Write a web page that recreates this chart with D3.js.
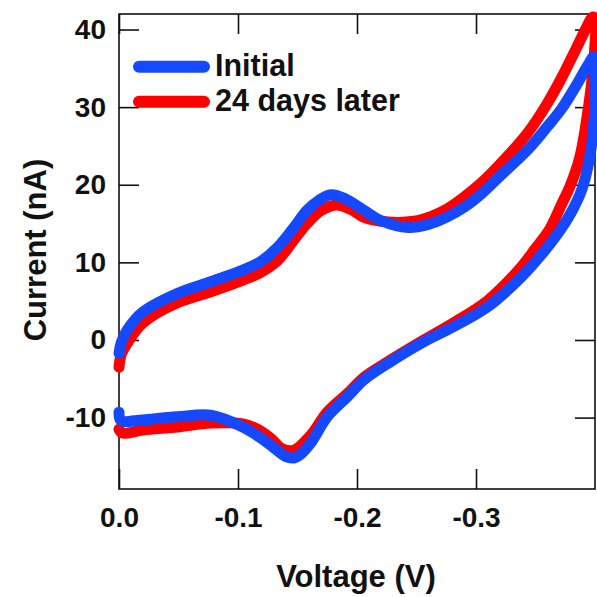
<!DOCTYPE html>
<html>
<head>
<meta charset="utf-8">
<script src="https://cdn.jsdelivr.net/npm/d3@7"></script>
<style>
  body { margin: 0; background: #fff; }
  text { font-family: "Liberation Sans", Arial, sans-serif; font-weight: bold; fill: #111; }
</style>
</head>
<body>
<svg width="597" height="597"></svg>
<script>
// voltammogram, two scans of the same electrode
var xTicks = [0, -0.1, -0.2, -0.3];
var yTicks = [-10, 0, 10, 20, 30, 40];
var seriesNames = ["Initial", "24 days later"];

// Initial: forward scan then return scan (V, nA)
var initialV = [0, -0.002, -0.007, -0.02, -0.049, -0.077, -0.104, -0.119, -0.133, -0.147, -0.158, -0.168, -0.178, -0.19, -0.206, -0.22, -0.243, -0.26, -0.275, -0.29, -0.305, -0.32, -0.344, -0.36, -0.372, -0.385, -0.394, -0.399,
  -0.4, -0.397, -0.39, -0.382, -0.371, -0.355, -0.338, -0.31, -0.281, -0.254, -0.226, -0.206, -0.192, -0.175, -0.161, -0.152, -0.147, -0.14, -0.127, -0.115, -0.104, -0.077, -0.049, -0.02, -0.0034, -0.001, 0];
var initialI = [-1.7, -0.3, 1.3, 3.6, 6.0, 7.5, 9.0, 10.1, 11.9, 14.5, 16.7, 18.0, 18.7, 18.2, 16.7, 15.4, 14.5, 14.9, 15.8, 17.1, 18.9, 21.1, 24.6, 27.5, 29.8, 33.0, 35.4, 36.5,
  31, 25.0, 19.9, 17.0, 14.2, 11.0, 8.1, 4.3, 1.7, -0.4, -3.0, -5.1, -7.3, -9.9, -13.3, -14.8, -15.2, -15.0, -13.5, -12.2, -11.2, -9.7, -9.9, -10.3, -10.5, -10.3, -9.3];

// 24 days later
var laterV = [0, -0.002, -0.007, -0.02, -0.049, -0.077, -0.104, -0.119, -0.133, -0.147, -0.158, -0.17, -0.183, -0.195, -0.206, -0.226, -0.248, -0.262, -0.276, -0.29, -0.305, -0.32, -0.344, -0.36, -0.372, -0.385, -0.393, -0.398, -0.4,
  -0.3995, -0.395, -0.387, -0.379, -0.372, -0.362, -0.35, -0.338, -0.31, -0.281, -0.254, -0.226, -0.206, -0.192, -0.175, -0.161, -0.147, -0.137, -0.127, -0.115, -0.104, -0.077, -0.049, -0.02, -0.003, 0];
var laterI = [-3.5, -1.8, -0.4, 2.2, 4.8, 6.2, 7.7, 8.7, 10.2, 12.9, 15.0, 16.7, 17.4, 16.8, 15.8, 15.2, 15.3, 15.9, 16.9, 18.4, 20.3, 22.6, 26.8, 30.5, 33.8, 37.8, 40.3, 41.6, 41.4,
  37, 30.5, 23.4, 19.8, 17.5, 14.3, 11.8, 9.4, 5.1, 2.2, -0.2, -2.8, -4.8, -6.9, -9.3, -12.3, -14.2, -14.0, -12.6, -11.4, -10.8, -10.7, -11.2, -11.6, -12.0, -11.5];

var colors = ["#1449ff", "#ff0000"];

var svg = d3.select("svg");
var margin = {top: 14, right: 2, bottom: 108, left: 119};
var W = 597, H = 597;

var x = d3.scaleLinear().domain([0, -0.4]).range([margin.left, W - margin.right]);
var y = d3.scaleLinear().domain([-19.2, 42]).range([H - margin.bottom, margin.top]);

var TICK = 20;
var fmtX = function(d){ return d === 0 ? "0.0" : d.toFixed(1); };
var fmtY = function(d){ return String(d); };

// frame + inward ticks on all four sides
function styleAxis(g) {
    g.select(".domain").remove();
    g.selectAll(".tick line").attr("stroke", "#111").attr("stroke-width", 1.6);
    g.selectAll(".tick text").attr("font-size", 28).attr("fill", "#111");
}
svg.append("g").attr("transform", "translate(0," + y.range()[0] + ")")
    .call(d3.axisBottom(x).tickValues(xTicks).tickFormat(fmtX).tickSizeInner(-TICK).tickSizeOuter(0).tickPadding(18))
    .call(styleAxis);
svg.append("g").attr("transform", "translate(0," + y.range()[1] + ")")
    .call(d3.axisTop(x).tickValues(xTicks).tickFormat("").tickSizeInner(-TICK).tickSizeOuter(0))
    .call(styleAxis);
svg.append("g").attr("transform", "translate(" + x.range()[0] + ",0)")
    .call(d3.axisLeft(y).tickValues(yTicks).tickFormat(fmtY).tickSizeInner(-TICK).tickSizeOuter(0).tickPadding(13))
    .call(styleAxis);
svg.append("g").attr("transform", "translate(" + x.range()[1] + ",0)")
    .call(d3.axisRight(y).tickValues(yTicks).tickFormat("").tickSizeInner(-TICK).tickSizeOuter(0))
    .call(styleAxis);

svg.append("rect")
    .attr("x", x.range()[0]).attr("y", y.range()[1])
    .attr("width", x.range()[1] - x.range()[0])
    .attr("height", y.range()[0] - y.range()[1])
    .attr("fill", "none").attr("stroke", "#111").attr("stroke-width", 1.6);

// curves: red under blue
var line = d3.line()
    .x(function(d){ return x(d[0]); })
    .y(function(d){ return y(d[1]); })
    .curve(d3.curveCatmullRom.alpha(0.5));

var series = [
    {name: seriesNames[1], v: laterV, i: laterI, color: colors[1]},
    {name: seriesNames[0], v: initialV, i: initialI, color: colors[0]}
];
series.forEach(function(s){
    svg.append("path")
        .datum(d3.zip(s.v, s.i))
        .attr("d", line)
        .attr("fill", "none")
        .attr("stroke", s.color)
        .attr("stroke-width", 11)
        .attr("stroke-linejoin", "round")
        .attr("stroke-linecap", "round");
});

// legend
var legend = svg.append("g");
seriesNames.forEach(function(name, k){
    var ly = 66.7 + k * 35;
    legend.append("line")
        .attr("x1", 139).attr("x2", 204)
        .attr("y1", ly).attr("y2", ly)
        .attr("stroke", colors[k]).attr("stroke-width", 12)
        .attr("stroke-linecap", "round");
    legend.append("text")
        .attr("x", 215).attr("y", ly + 9)
        .attr("font-size", 30.5)
        .text(name);
});

// axis titles
svg.append("text")
    .attr("x", (x.range()[0] + x.range()[1]) / 2 - 1)
    .attr("y", 587)
    .attr("text-anchor", "middle")
    .attr("font-size", 31)
    .text("Voltage (V)");
svg.append("text")
    .attr("transform", "translate(46,250) rotate(-90)")
    .attr("text-anchor", "middle")
    .attr("font-size", 31)
    .text("Current (nA)");
</script>
</body>
</html>
